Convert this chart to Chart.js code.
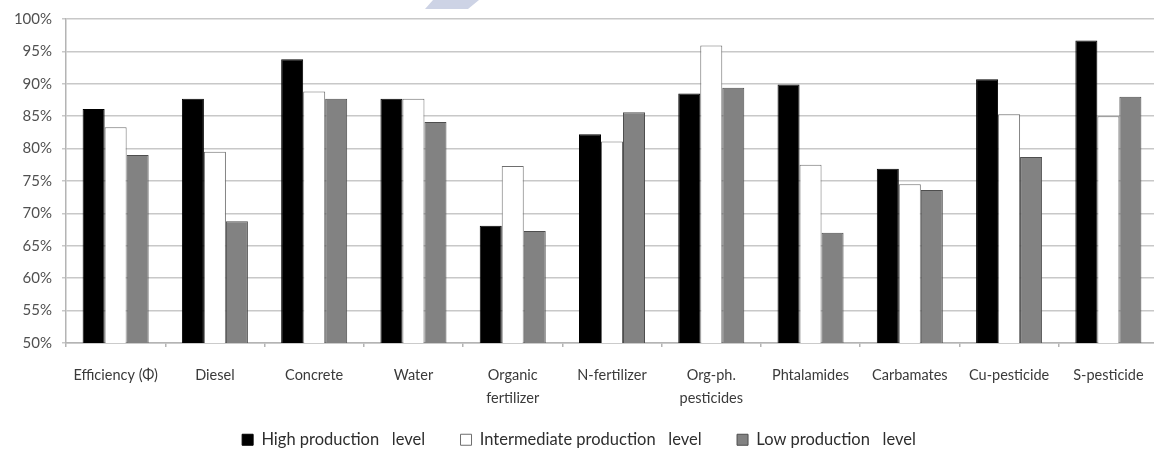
<!DOCTYPE html>
<html>
<head>
<meta charset="utf-8">
<script src="https://cdn.jsdelivr.net/npm/chart.js@4/dist/chart.umd.min.js"></script>
<style>
  html, body { margin: 0; padding: 0; background: #fff; overflow: hidden; }
  #wrap { width: 1162px; height: 452px; }
</style>
</head>
<body>
<div id="wrap"><canvas id="c" width="1162" height="452"></canvas></div>
<script>
// Input categories (two-line labels are given as arrays)
const categories = [
  "Efficiency (\u03A6)", "Diesel", "Concrete", "Water", ["Organic", "fertilizer"],
  "N-fertilizer", ["Org-ph.", "pesticides"], "Phtalamides", "Carbamates",
  "Cu-pesticide", "S-pesticide"
];

// Share (%) for each production level
const highLevel         = [86.1, 87.7, 93.8, 87.7, 68.1, 82.2, 88.5, 89.9, 76.9, 90.7, 96.7];
const intermediateLevel = [83.3, 79.5, 88.8, 87.7, 77.3, 81.1, 95.9, 77.5, 74.5, 85.3, 85.0];
const lowLevel          = [79.0, 68.8, 87.7, 84.1, 67.3, 85.6, 89.4, 67.0, 73.6, 78.7, 88.0];

const seriesNames = [
  "High production   level",
  "Intermediate production   level",
  "Low production   level"
];

// Y axis range and tick step (percent)
const yMin = 50, yMax = 100, yStep = 5;

const FONT = "Lato, 'Open Sans', sans-serif";
const LEGEND_GAP = "    "; // extra room between legend entries

// Small banner shape at the top edge of the page
const bannerPlugin = {
  id: "banner",
  afterDraw(chart) {
    const ctx = chart.ctx;
    ctx.save();
    ctx.fillStyle = "#cdd3e5";
    ctx.beginPath();
    ctx.moveTo(433, 0);
    ctx.lineTo(479, 0);
    ctx.lineTo(468, 9);
    ctx.lineTo(425, 9);
    ctx.closePath();
    ctx.fill();
    ctx.restore();
  }
};

new Chart(document.getElementById("c"), {
  type: "bar",
  data: {
    labels: categories,
    datasets: [
      { label: seriesNames[0], data: highLevel,
        backgroundColor: "#000000", borderColor: "#000000", borderWidth: 1 },
      { label: seriesNames[1], data: intermediateLevel,
        backgroundColor: "#ffffff", borderColor: "#6e6e6e", borderWidth: 1 },
      { label: seriesNames[2], data: lowLevel,
        backgroundColor: "#828282", borderColor: "#4e4e4e", borderWidth: 1 }
    ]
  },
  options: {
    responsive: false,
    animation: false,
    devicePixelRatio: 1,
    layout: { padding: { top: 17, right: 4, left: 0, bottom: -6 } },
    datasets: { bar: { categoryPercentage: 0.665, barPercentage: 1.0 } },
    scales: {
      x: {
        grid: {
          offset: true,
          drawOnChartArea: false,
          drawTicks: true,
          tickLength: 4,
          color: "#b4b4b4",
          lineWidth: 1.5
        },
        border: { display: true, color: "#b4b4b4", width: 1.5 },
        ticks: {
          color: "#3a3a3a",
          font: { family: FONT, size: 14.5, lineHeight: 1.6 },
          padding: 17,
          maxRotation: 0,
          autoSkip: false
        },
        afterFit(scale) { scale.height = 70; }
      },
      y: {
        min: yMin,
        max: yMax,
        grid: {
          color: "#c8c8c8",
          lineWidth: 1.5,
          drawTicks: true,
          tickLength: 4
        },
        border: { display: true, color: "#b4b4b4", width: 1.5 },
        ticks: {
          stepSize: yStep,
          color: "#505050",
          padding: 10,
          font: { family: FONT, size: 15 },
          callback: v => v + "%"
        },
        afterFit(scale) { scale.width = 66; }
      }
    },
    plugins: {
      legend: {
        position: "bottom",
        labels: {
          boxWidth: 11,
          boxHeight: 11,
          padding: 18.5,
          color: "#2e2e2e",
          font: { family: FONT, size: 16.5 },
          generateLabels(chart) {
            const items = Chart.defaults.plugins.legend.labels.generateLabels(chart);
            items.forEach((it, i) => {
              if (i < items.length - 1) it.text = it.text + LEGEND_GAP;
            });
            return items;
          }
        }
      },
      tooltip: { enabled: false }
    }
  },
  plugins: [bannerPlugin]
});
</script>
</body>
</html>
